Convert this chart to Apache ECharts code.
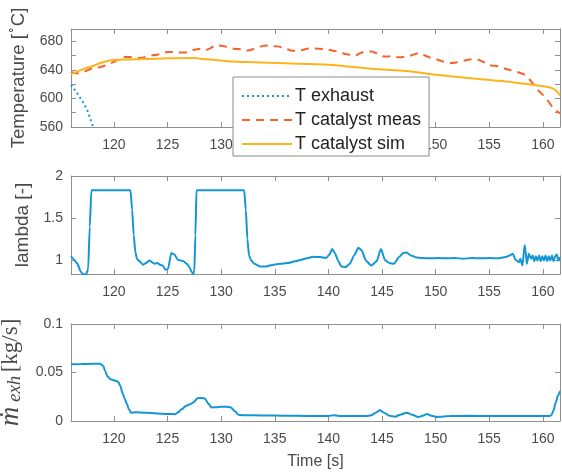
<!DOCTYPE html>
<html>
<head>
<meta charset="utf-8">
<script src="https://cdn.jsdelivr.net/npm/echarts@6/dist/echarts.min.js"></script>
<style>
  html, body { margin: 0; padding: 0; background: #ffffff; }
  #chart { width: 562px; height: 475px; }
</style>
</head>
<body>
<div id="chart"></div>
<script>
// ---- axis ticks ----
const timeTicks = [120, 125, 130, 135, 140, 145, 150, 155, 160];
const tempTicks = [560, 580, 600, 620, 640, 660, 680];
const tempLabels = [560, 600, 640, 680];
const lambdaTicks = [1, 1.5, 2];
const massTicks = [0, 0.05, 0.1];

// ---- exhaust gas temperature [C] ----
const exhaustTime = [116, 116.4, 116.8, 117.2, 117.5, 117.8, 118.05, 118.4, 119];
const exhaustTemp = [619, 611, 602, 593, 584, 572, 560, 546, 525];

// ---- measured catalyst temperature [C] ----
const measTime = [116, 116.5, 117, 117.5, 118, 118.5, 119, 119.5, 120, 120.5, 121, 121.5, 122, 122.5,
  123, 123.5, 124, 124.5, 125, 125.5, 126, 126.5, 127, 127.5, 128, 128.5, 129, 129.5, 130, 130.5,
  131, 131.5, 132, 132.5, 133, 133.5, 134, 134.5, 135, 135.5, 136, 136.5, 137, 137.5, 138, 138.5,
  139, 139.5, 140, 140.5, 141, 141.5, 142, 142.5, 143, 143.5, 144, 144.5, 145, 145.5, 146, 146.5,
  147, 147.5, 148, 148.5, 149, 149.5, 150, 150.5, 151, 151.5, 152, 152.5, 153, 153.5, 154, 154.5,
  155, 155.5, 156, 156.5, 157, 157.5, 158, 158.5, 159, 159.5, 160, 160.5, 161, 161.6];
const measTemp = [637, 635, 636, 639, 642, 643, 645, 648, 651, 655, 658, 658, 657, 656.5,
  658, 660, 661, 662.5, 665, 665, 664, 664, 665, 668, 669, 667.5, 670, 674.5, 673.5, 672,
  670, 669, 669, 667, 669, 671.5, 673.5, 674, 673, 672, 670, 667, 666.5, 667.5, 669.5, 670,
  669.5, 669, 668, 666.5, 665, 662.5, 661, 660, 663.5, 665, 665.5, 663, 659, 658.5, 659, 657.5,
  658, 659, 661.5, 663.5, 660, 657, 655, 652.5, 650, 649.5, 650.5, 652, 654, 655, 654, 650.5,
  646.5, 645.5, 644, 641.5, 639.5, 637.5, 635, 631, 622, 612, 605, 596, 586, 579];

// ---- simulated catalyst temperature [C] ----
const simTime = [116, 116.5, 117, 117.5, 118, 118.5, 119, 119.5, 120, 121, 123, 125, 127.5, 128, 130,
  131, 133, 136, 140, 144, 147.5, 150, 153, 156, 159, 160, 160.9, 161.3, 161.6];
const simTemp = [634, 637, 640, 643, 645, 648, 650.5, 652.5, 653.5, 654.5, 655, 656, 656.5, 655.5, 653,
  651.5, 650.5, 649, 647, 641.5, 638, 633, 628.5, 624.5, 619, 617, 614, 610, 604];

// ---- air-fuel equivalence ratio lambda [-] ----
const lambdaTime = [116, 116.3, 116.6, 116.9, 117.1, 117.4, 117.6, 117.75, 117.9, 119, 120.5, 121.55,
  121.7, 121.85, 122.0, 122.15, 122.4, 122.7, 123.0, 123.3, 123.55, 123.8, 124.05, 124.3, 124.55,
  124.8, 125.05, 125.35, 125.65, 125.95, 126.2, 126.5, 126.8, 127.05, 127.25, 127.4, 127.5, 127.6,
  127.7, 129, 131, 132.15, 132.3, 132.45, 132.6, 132.8, 133.1, 133.6, 134.2, 134.9, 135.5, 136.2,
  136.9, 137.5, 138.1, 138.6, 139.2, 139.8, 140.1, 140.35, 140.6, 140.9, 141.2, 141.6, 142.0, 142.4,
  142.8, 143.1, 143.5, 144.0, 144.5, 144.9, 145.3, 145.7, 146.1, 146.6, 147.0, 147.3, 147.7, 148.2,
  148.8, 149.5, 150.2, 151, 151.8, 152.6, 153.4, 154.2, 155, 155.8, 156.5, 156.9, 157.2, 157.45,
  157.8, 157.9, 158.1, 158.3, 158.4, 158.5, 158.7, 158.9, 159.05, 159.2, 159.35, 159.5, 159.65,
  159.8, 159.95, 160.1, 160.25, 160.4, 160.55, 160.7, 160.85, 161.0, 161.15, 161.3, 161.45, 161.6];
const lambdaVal = [1.05, 1.01, 0.96, 0.87, 0.84, 0.835, 0.9, 1.4, 1.83, 1.83, 1.83, 1.83,
  1.6, 1.3, 1.1, 1.02, 0.99, 0.95, 0.97, 1.0, 0.98, 0.96, 0.97, 0.95, 0.94,
  0.89, 0.9, 1.09, 1.07, 1.01, 1.0, 0.99, 0.96, 0.92, 0.865, 0.84, 0.88, 1.3,
  1.83, 1.83, 1.83, 1.83, 1.6, 1.25, 1.06, 1.0, 0.96, 0.93, 0.93, 0.95, 0.96, 0.97,
  0.99, 1.01, 1.03, 1.045, 1.04, 1.03, 1.07, 1.135, 1.09, 1.0, 0.93, 0.92, 0.96, 1.06,
  1.15, 1.12, 1.0, 0.94, 0.99, 1.135, 1.0, 0.97, 0.96, 1.04, 1.09, 1.095, 1.06, 1.035,
  1.03, 1.025, 1.03, 1.025, 1.03, 1.02, 1.03, 1.025, 1.03, 1.025, 1.04, 1.058, 1.08, 1.01,
  0.98, 1.02, 0.94, 1.18, 1.115, 0.96, 1.08, 1.02, 1.06, 0.99, 1.05, 1.0, 1.06,
  0.99, 1.05, 1.0, 1.06, 0.99, 1.05, 1.0, 1.06, 0.99, 1.05, 1.07, 1.0, 1.04];

// ---- exhaust mass flow [kg/s] ----
const massTime = [116, 117, 118, 118.7, 119.0, 119.2, 119.4, 119.7, 120.0, 120.4, 120.6, 120.8, 121.0,
  121.2, 121.4, 121.6, 122, 123, 124, 125, 125.7, 126.0, 126.3, 126.75, 127.1, 127.4, 127.8, 128.2,
  128.5, 128.8, 129.1, 129.5, 130, 130.5, 130.9, 131.3, 131.6, 132, 134, 136, 138, 140, 140.5, 141,
  143.5, 144.0, 144.4, 144.8, 145.2, 145.7, 146.2, 146.8, 147.3, 147.8, 148.4, 148.8, 149.2, 149.6,
  150.1, 150.6, 151.3, 153, 155, 157, 159, 160.6, 160.8, 161.0, 161.2, 161.4, 161.6];
const massFlow = [0.0586, 0.0588, 0.0589, 0.059, 0.057, 0.051, 0.046, 0.043, 0.042, 0.0405, 0.036, 0.029, 0.023,
  0.018, 0.012, 0.0086, 0.009, 0.0085, 0.0078, 0.0072, 0.007, 0.009, 0.012, 0.0158, 0.0172, 0.019, 0.0235, 0.0238,
  0.023, 0.018, 0.014, 0.0142, 0.0148, 0.0148, 0.014, 0.010, 0.0065, 0.006, 0.0057, 0.0054, 0.0052, 0.0051, 0.006, 0.0052,
  0.0052, 0.0058, 0.0085, 0.011, 0.0085, 0.0055, 0.0045, 0.0068, 0.0086, 0.0065, 0.004, 0.0055, 0.0072, 0.0055,
  0.0042, 0.0045, 0.0052, 0.0053, 0.0052, 0.0052, 0.0052, 0.0052, 0.006, 0.011, 0.019, 0.026, 0.031];

const zip = (xs, ys) => xs.map((x, i) => [x, ys[i]]);

const BLUE = '#1495d6';
const ORANGE = '#f5632b';
const YELLOW = '#fdb31c';
const AXIS = '#8f8f8f';
const TEXT = '#4a4a4a';
const FONT = 'Liberation Sans, Arial, sans-serif';
const SERIF = 'Liberation Serif, DejaVu Serif, serif';

const grids = [
  { left: 71, top: 29, width: 489, height: 98, outerBoundsMode: 'none' },
  { left: 71, top: 176, width: 489, height: 98, outerBoundsMode: 'none' },
  { left: 71, top: 324, width: 489, height: 97, outerBoundsMode: 'none' }
];

const X_MIN = 116, X_MAX = 161.6;

function xAxisFor(gridIndex, position, labels, extra) {
  return Object.assign({
    type: 'value', gridIndex, position, min: X_MIN, max: X_MAX,
    axisLine: { show: true, onZero: false, lineStyle: { color: AXIS, width: 1 } },
    axisTick: { show: true, inside: true, length: 5, customValues: timeTicks, lineStyle: { color: AXIS } },
    axisLabel: { show: labels, customValues: timeTicks, color: TEXT, fontSize: 14, fontFamily: FONT, margin: 11 },
    splitLine: { show: false }
  }, extra || {});
}

function yAxisFor(gridIndex, position, min, max, ticks, labels, labelValues, extra) {
  return Object.assign({
    type: 'value', gridIndex, position, min, max,
    axisLine: { show: true, onZero: false, lineStyle: { color: AXIS, width: 1 } },
    axisTick: { show: true, inside: true, length: 5, customValues: ticks, lineStyle: { color: AXIS } },
    axisLabel: { show: labels, customValues: labelValues || ticks, color: TEXT, fontSize: 14, fontFamily: FONT, margin: 8 },
    splitLine: { show: false }
  }, extra || {});
}

const chart = echarts.init(document.getElementById('chart'), null, { renderer: 'canvas' });

chart.setOption({
  animation: false,
  backgroundColor: '#ffffff',
  grid: grids,
  xAxis: [
    xAxisFor(0, 'bottom', true),
    xAxisFor(0, 'top', false),
    xAxisFor(1, 'bottom', true),
    xAxisFor(1, 'top', false),
    xAxisFor(2, 'bottom', true, {
      name: 'Time [s]', nameLocation: 'middle', nameGap: 33,
      nameTextStyle: { color: TEXT, fontSize: 16, fontFamily: FONT }
    }),
    xAxisFor(2, 'top', false)
  ],
  yAxis: [
    yAxisFor(0, 'left', 560, 697, tempTicks, true, tempLabels, {
      name: '{t|Temperature [}{d|∘}{t|C]}', nameLocation: 'middle', nameRotate: 90, nameGap: 43,
      nameTextStyle: {
        rich: {
          t: { color: TEXT, fontSize: 18.5, fontFamily: FONT, lineHeight: 22, verticalAlign: 'bottom' },
          d: { color: TEXT, fontSize: 12, fontFamily: FONT, lineHeight: 22, verticalAlign: 'top' }
        }
      }
    }),
    yAxisFor(0, 'right', 560, 697, tempTicks, false),
    yAxisFor(1, 'left', 0.84, 2, lambdaTicks, true, lambdaTicks, {
      name: 'lambda [-]', nameLocation: 'middle', nameRotate: 90, nameGap: 33,
      nameTextStyle: { color: TEXT, fontSize: 19, fontFamily: FONT }
    }),
    yAxisFor(1, 'right', 0.84, 2, lambdaTicks, false),
    yAxisFor(2, 'left', 0, 0.1, massTicks, true, massTicks, {
      name: '{m|ṁ}{s| exh} {u|[kg/s]}', nameLocation: 'middle', nameRotate: 90, nameGap: 43,
      nameTextStyle: {
        rich: {
          m: { color: TEXT, fontSize: 27, fontStyle: 'italic', fontFamily: SERIF, lineHeight: 26, verticalAlign: 'middle' },
          s: { color: TEXT, fontSize: 19, fontStyle: 'italic', fontFamily: SERIF, lineHeight: 26, verticalAlign: 'bottom', padding: [6, 0, 0, 0] },
          u: { color: TEXT, fontSize: 23, fontFamily: SERIF, lineHeight: 26, verticalAlign: 'middle' }
        }
      }
    }),
    yAxisFor(2, 'right', 0, 0.1, massTicks, false)
  ],
  legend: {
    orient: 'vertical',
    left: 233, top: 77,
    padding: [10, 8, 3, 8],
    itemGap: 6,
    itemWidth: 50,
    itemHeight: 14,
    backgroundColor: '#ffffff',
    borderColor: '#8a8a8a',
    borderWidth: 1,
    itemStyle: { opacity: 0 },
    textStyle: { color: '#222222', fontSize: 18, fontFamily: FONT, padding: [0, 0, 0, -2] },
    data: ['T exhaust', 'T catalyst meas', 'T catalyst sim']
  },
  series: [
    {
      name: 'T exhaust', type: 'line', xAxisIndex: 0, yAxisIndex: 0, symbol: 'none', clip: true,
      lineStyle: { color: BLUE, width: 2, type: [2, 3] }, itemStyle: { color: BLUE },
      data: zip(exhaustTime, exhaustTemp)
    },
    {
      name: 'T catalyst meas', type: 'line', xAxisIndex: 0, yAxisIndex: 0, symbol: 'none', clip: true,
      smooth: 0.3,
      lineStyle: { color: ORANGE, width: 2, type: [8, 6] }, itemStyle: { color: ORANGE },
      data: zip(measTime, measTemp)
    },
    {
      name: 'T catalyst sim', type: 'line', xAxisIndex: 0, yAxisIndex: 0, symbol: 'none', clip: true,
      smooth: 0.3,
      lineStyle: { color: YELLOW, width: 2 }, itemStyle: { color: YELLOW },
      data: zip(simTime, simTemp)
    },
    {
      name: 'lambda', type: 'line', xAxisIndex: 2, yAxisIndex: 2, symbol: 'none', clip: true,
      smooth: 0.2, smoothMonotone: 'x',
      lineStyle: { color: BLUE, width: 2 }, itemStyle: { color: BLUE },
      data: zip(lambdaTime, lambdaVal)
    },
    {
      name: 'mass flow', type: 'line', xAxisIndex: 4, yAxisIndex: 4, symbol: 'none', clip: true,
      smooth: 0.3, smoothMonotone: 'x',
      lineStyle: { color: BLUE, width: 2 }, itemStyle: { color: BLUE },
      data: zip(massTime, massFlow)
    }
  ]
});
</script>
</body>
</html>
